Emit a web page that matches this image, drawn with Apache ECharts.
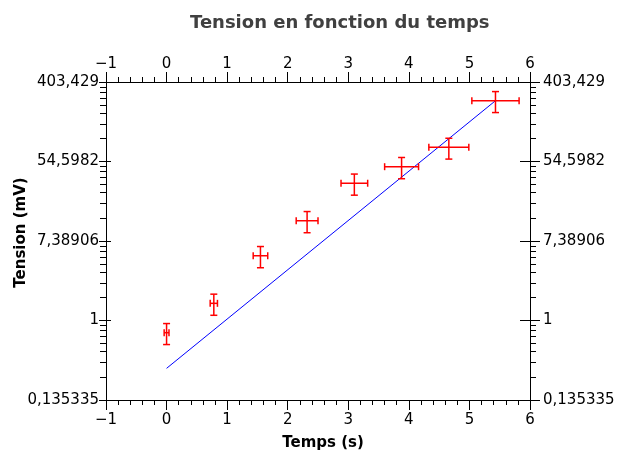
<!DOCTYPE html>
<html>
<head>
<meta charset="utf-8">
<script src="https://cdn.jsdelivr.net/npm/echarts@6/dist/echarts.min.js"></script>
<style>html,body{margin:0;padding:0;background:#fff}#c{width:617px;height:450px}</style>
</head>
<body>
<div id="c"></div>
<script>
// Data
const temps   = [0, 0.78, 1.55, 2.32, 3.10, 3.88, 4.66, 5.43];
const tension = [0.736, 1.54, 5.10, 12.3, 31.6, 47.9, 78.0, 252];
const tempsErr   = [0.04, 0.06, 0.12, 0.18, 0.22, 0.28, 0.33, 0.39];
const tensionErr = [0.19, 0.40, 1.33, 3.2, 8.2, 12.5, 20, 65];
const fitTemps   = [0, 5.43];
const fitTension = [0.300, 252];
const xTickLabels = ['\u22121', '0', '1', '2', '3', '4', '5', '6'];
const yTickLabels = ['0,135335', '1', '7,38906', '54,5982', '403,429'];
const yMajorTicks = [Math.exp(-2), 1, Math.exp(2), Math.exp(4), Math.exp(6)];
const yMinorSplit = 8;

const FONT = 'DejaVu Sans';
const chart = echarts.init(document.getElementById('c'), null, {renderer: 'canvas'});

const errData = temps.map((t, i) => [t, tension[i], tempsErr[i], tensionErr[i]]);
const fitData = fitTemps.map((t, i) => [t, fitTension[i]]);
// minor ticks of the log axis: linear subdivisions between major ticks
const minorData = [];
for (let i = 1; i < yMajorTicks.length; i++) {
  const a = yMajorTicks[i - 1], b = yMajorTicks[i];
  for (let k = 1; k < yMinorSplit; k++) minorData.push([-1, a + (b - a) * k / yMinorSplit]);
}

function xFmt(v) { return xTickLabels[Math.round(v) + 1]; }
function yFmt(v, i) { return yTickLabels[i]; }

function xAxisDef(pos) {
  return {
    type: 'value', position: pos, min: -1, max: 6, interval: 1,
    axisLine: {show: true, onZero: false, lineStyle: {color: '#000', width: 1}},
    axisTick: {show: true, inside: false, length: 10, lineStyle: {color: '#000'}},
    minorTick: {show: true, splitNumber: 5, length: 5, lineStyle: {color: '#000'}},
    splitLine: {show: false},
    axisLabel: {formatter: xFmt, fontSize: 15, color: '#000', fontFamily: FONT, margin: pos === 'bottom' ? 13 : 10}
  };
}
const yBase = {type: 'log', logBase: Math.exp(2), min: Math.exp(-2), max: Math.exp(6), splitNumber: 5, splitLine: {show: false}};
function yAxisDef(pos, overlay) {
  const o = Object.assign({}, yBase, {position: pos});
  if (overlay) {
    o.axisLine = {show: false, onZero: false};
    o.axisTick = {show: true, inside: true, length: pos === 'left' ? 5 : 10, lineStyle: {color: '#000'}};
    o.minorTick = {show: false};
    o.axisLabel = {show: false};
  } else {
    o.axisLine = {show: true, onZero: false, lineStyle: {color: '#000', width: 1}};
    o.axisTick = {show: true, inside: false, length: pos === 'left' ? 7 : 10, lineStyle: {color: '#000'}};
    o.minorTick = {show: false};
    o.axisLabel = {formatter: yFmt, fontSize: 15, color: '#000', fontFamily: FONT, margin: pos === 'left' ? 7 : 13};
  }
  return o;
}

const xb = xAxisDef('bottom');
xb.name = 'Temps (s)';
xb.nameLocation = 'middle';
xb.nameGap = 36;
xb.nameMoveOverlap = false;
xb.nameTextStyle = {fontWeight: 'bold', fontSize: 15, color: '#000', fontFamily: FONT, padding: [0, 0, 0, 10]};

const yl = yAxisDef('left', false);
yl.name = 'Tension (mV)';
yl.nameLocation = 'middle';
yl.nameGap = 77;
yl.nameMoveOverlap = false;
yl.nameTextStyle = {fontWeight: 'bold', fontSize: 15, color: '#000', fontFamily: FONT, padding: [0, 0, 0, 17]};

chart.setOption({
  animation: false,
  backgroundColor: '#fff',
  title: {
    text: 'Tension en fonction du temps',
    left: 185, top: 9,
    textStyle: {fontSize: 18, fontWeight: 'bold', color: '#404040', fontFamily: FONT}
  },
  grid: {left: 106, right: 87, top: 82, bottom: 50, containLabel: false, outerBoundsMode: 'none'},
  xAxis: [xb, xAxisDef('top')],
  yAxis: [yl, yAxisDef('left', true), yAxisDef('right', false), yAxisDef('right', true)],
  series: [
    {
      type: 'line', xAxisIndex: 0, yAxisIndex: 0, data: fitData,
      showSymbol: false, symbol: 'none',
      lineStyle: {color: '#0000ff', width: 1}, z: 2
    },
    {
      type: 'custom', xAxisIndex: 0, yAxisIndex: 0, data: errData,
      encode: {x: 0, y: 1}, z: 3,
      renderItem: function (params, api) {
        const x = api.value(0), y = api.value(1), ex = api.value(2), ey = api.value(3);
        const l = api.coord([x - ex, y]), r = api.coord([x + ex, y]);
        const t = api.coord([x, y + ey]), b = api.coord([x, y - ey]);
        const st = {stroke: '#ff0000', lineWidth: 1.5};
        const cw = 3.5, ch = 3.5;
        const seg = (x1, y1, x2, y2) => ({type: 'line', shape: {x1, y1, x2, y2}, style: st});
        return {
          type: 'group',
          children: [
            seg(l[0], l[1], r[0], r[1]),
            seg(l[0], l[1] - ch, l[0], l[1] + ch),
            seg(r[0], r[1] - ch, r[0], r[1] + ch),
            seg(t[0], t[1], b[0], b[1]),
            seg(t[0] - cw, t[1], t[0] + cw, t[1]),
            seg(b[0] - cw, b[1], b[0] + cw, b[1])
          ]
        };
      }
    },
    {
      // minor ticks of both log axes, placed through the axis scale
      type: 'custom', xAxisIndex: 0, yAxisIndex: 0, data: minorData,
      encode: {x: 0, y: 1}, z: 4, silent: true, clip: false,
      renderItem: function (params, api) {
        const v = api.value(1);
        const lp = api.coord([-1, v]), rp = api.coord([6, v]);
        const ly = Math.round(lp[1]) + 0.5;
        const st = {stroke: '#000', lineWidth: 1};
        return {
          type: 'group',
          children: [
            {type: 'line', shape: {x1: lp[0] - 6, y1: ly, x2: lp[0], y2: ly}, style: st},
            {type: 'line', shape: {x1: rp[0], y1: ly, x2: rp[0] + 6, y2: ly}, style: st}
          ]
        };
      }
    }
  ]
});
</script>
</body>
</html>
